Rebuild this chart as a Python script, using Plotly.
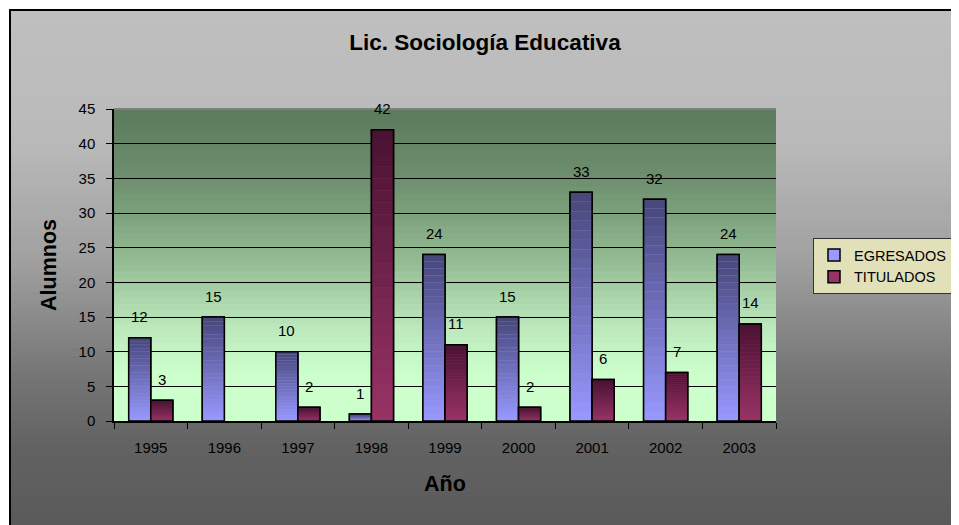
import plotly.graph_objects as go

# ----------------------------------------------------------------------
# Datos
# ----------------------------------------------------------------------
anios = ["1995", "1996", "1997", "1998", "1999", "2000", "2001", "2002", "2003"]
egresados = [12, 15, 10, 1, 24, 15, 33, 32, 24]
titulados = [3, None, 2, 42, 11, 2, 6, 7, 14]

FONT = "Liberation Sans, Arial, sans-serif"
OFF = 8  # margen por defecto del <body> en la pagina
W, H = 959 - OFF, 525 - OFF
# area de trazado en pixeles de la imagen de referencia
X0, X1, Y0, Y1 = 114, 776, 109, 421
L, R, T, B = X0 - OFF, W - (X1 - OFF), Y0 - OFF, H - (Y1 - OFF)


def mix(stops, f):
    """Interpola un color entre paradas [(pos, (r, g, b)), ...]."""
    for (p0, c0), (p1, c1) in zip(stops, stops[1:]):
        if p0 <= f <= p1:
            t = 0 if p1 == p0 else (f - p0) / (p1 - p0)
            rgb = [round(a + (b - a) * t) for a, b in zip(c0, c1)]
            return "rgb({},{},{})".format(*rgb)
    return "rgb({},{},{})".format(*stops[-1][1])


def px_x(x):
    return (x - X0) / (X1 - X0)


def px_y(y):
    return (Y1 - y) / (Y1 - Y0)


shapes = []

# fondo gris del area del grafico (degradado vertical)
gris = [(10, (191, 191, 191)), (140, (186, 186, 186)), (260, (160, 160, 160)),
        (380, (116, 116, 116)), (450, (98, 98, 98)), (525, (90, 90, 90))]
n = 64
for i in range(n):
    y0 = 10 + (525 - 10) * i / n
    y1 = 10 + (525 - 10) * (i + 1) / n + 1
    shapes.append(dict(type="rect", xref="paper", yref="paper", layer="below",
                       x0=px_x(10), x1=px_x(970), y0=px_y(y1), y1=px_y(y0),
                       fillcolor=mix(gris, (y0 + y1) / 2), line=dict(width=0)))

# borde negro del area del grafico
shapes.append(dict(type="rect", xref="paper", yref="paper", layer="below",
                   x0=px_x(10), x1=px_x(990), y0=px_y(560), y1=px_y(10),
                   fillcolor="rgba(0,0,0,0)", line=dict(color="black", width=2)))

# fondo verde del area de trazado
verde = [(0.0, (92, 122, 92)), (0.25, (112, 146, 112)), (0.5, (150, 190, 150)),
         (0.7, (188, 232, 188)), (0.85, (204, 255, 204)), (1.0, (204, 255, 204))]
n = 48
for i in range(n):
    f0, f1 = i / n, (i + 1) / n
    shapes.append(dict(type="rect", xref="paper", yref="paper", layer="below",
                       x0=0, x1=1, y0=1 - f1 - 0.004, y1=1 - f0,
                       fillcolor=mix(verde, (f0 + f1) / 2), line=dict(width=0)))

# linea gris superior del area de trazado
shapes.append(dict(type="line", xref="paper", yref="paper", layer="above",
                   x0=0, x1=1, y0=1, y1=1, line=dict(color="#808080", width=2)))

fig = go.Figure()

series = [
    ("EGRESADOS", egresados, "e", (153, 153, 255), (70, 70, 120)),
    ("TITULADOS", titulados, "t", (153, 51, 102), (72, 18, 50)),
]

N = 24
for nombre, valores, grupo, claro, oscuro in series:
    # barra base (lleva la leyenda)
    fig.add_trace(go.Bar(
        x=anios, y=valores, name=nombre, offsetgroup=grupo,
        marker=dict(color="rgb({},{},{})".format(*claro),
                    line=dict(color="black", width=1.5)),
        hoverinfo="skip",
    ))
    # degradado vertical: tramos de abajo (claro) hacia arriba (oscuro)
    grad = [(0.0, claro), (1.0, oscuro)]
    for k in range(N):
        fig.add_trace(go.Bar(
            x=anios,
            y=[None if v is None else v / N for v in valores],
            base=[None if v is None else v * k / N for v in valores],
            offsetgroup=grupo, showlegend=False, hoverinfo="skip",
            marker=dict(color=mix(grad, (k + 0.5) / N), line=dict(width=0)),
        ))
    # contorno
    fig.add_trace(go.Bar(
        x=anios, y=valores, offsetgroup=grupo, showlegend=False,
        marker=dict(color="rgba(0,0,0,0)", line=dict(color="black", width=1.5)),
        hovertemplate=nombre + " %{x}: %{y}<extra></extra>",
    ))

# etiquetas de valores (x como indice de categoria)
annotations = []
for valores, dx in [(egresados, -11), (titulados, 11)]:
    for i, v in enumerate(valores):
        if v is None:
            continue
        annotations.append(dict(
            x=i, y=v, text=str(v), showarrow=False, xshift=dx, yshift=21,
            yanchor="middle", font=dict(family=FONT, size=15, color="black"),
        ))

fig.update_layout(
    width=W, height=H,
    margin=dict(l=L, r=R, t=T, b=B, autoexpand=False),
    paper_bgcolor="white",
    plot_bgcolor="rgba(0,0,0,0)",
    barmode="group", bargap=0.40, bargroupgap=0,
    shapes=shapes,
    annotations=annotations,
    font=dict(family=FONT, color="black"),
    title=dict(
        text="<b>Lic. Sociología Educativa</b>",
        x=(485 - OFF) / W, xanchor="center", xref="container",
        y=1 - (42 - OFF) / H, yanchor="middle",
        font=dict(family=FONT, size=22.5, color="black"),
    ),
    xaxis=dict(
        type="category", tickson="boundaries",
        range=[-0.5, len(anios) - 0.5],
        ticks="outside", ticklen=6, tickcolor="black", tickwidth=1,
        ticklabelstandoff=12,
        showline=True, linecolor="black", linewidth=1.5,
        showgrid=False,
        tickfont=dict(family=FONT, size=15, color="black"),
        title=dict(text="<b>Año</b>", standoff=21,
                   font=dict(family=FONT, size=21.5, color="black")),
    ),
    yaxis=dict(
        range=[0, 45], dtick=5,
        ticks="outside", ticklen=6, tickcolor="black", tickwidth=1,
        ticklabelstandoff=8,
        showline=True, linecolor="black", linewidth=1.5,
        showgrid=True, gridcolor="black", gridwidth=1,
        zeroline=False,
        tickfont=dict(family=FONT, size=15, color="black"),
        title=dict(text="<b>Alumnos</b>", standoff=16,
                   font=dict(family=FONT, size=21.5, color="black")),
    ),
    legend=dict(
        x=px_x(813), xanchor="left", y=px_y(238), yanchor="top",
        bgcolor="#e2e0b8", bordercolor="#333333", borderwidth=1,
        font=dict(family=FONT, size=14.5, color="black"),
        itemwidth=30, tracegroupgap=0,
    ),
    showlegend=True,
)

fig.write_html("out.html")
